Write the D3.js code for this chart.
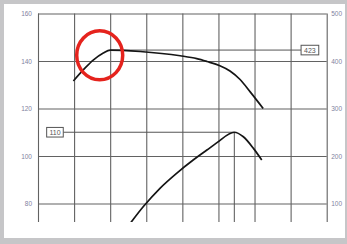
<!DOCTYPE html>
<html>
<head>
<meta charset="utf-8">
<script src="https://cdn.jsdelivr.net/npm/d3@7"></script>
<style>
  body { margin: 0; background: #c6c6c8; }
  svg { display: block; }
</style>
</head>
<body>
<script>
// x positions are in grid steps (no x labels on the original)
var upperX = [0.98, 1.30, 1.53, 1.81, 2.0, 2.83, 3.94, 4.40, 4.68, 5.04, 5.32, 5.60, 5.88, 6.24];
var upperY = [358, 385, 402, 417, 423, 420, 411, 405, 399, 390, 379, 361, 335, 300];   // right axis
var lowerX = [2.55, 2.92, 3.38, 3.84, 4.30, 4.68, 4.95, 5.44, 5.69, 5.97, 6.20];
var lowerY = [71.5, 78.7, 86.4, 92.7, 98.3, 102.5, 105.5, 110, 108.1, 103.2, 98.3];   // left axis
var leftTicks = [80, 100, 120, 140, 160];
var rightTicks = [100, 200, 300, 400, 500];
var xTicks = [0, 1, 2, 3, 4, 5, 6, 7, 8];

var W = 347, H = 244;
var m = {left: 38, right: 326.7, top: 13.5, bottom: 222};

var svg = d3.select("body").append("svg").attr("width", W).attr("height", H);

// paper
svg.append("rect").attr("x", 4).attr("y", 4).attr("width", 341).attr("height", 234).attr("fill", "#ffffff");

var x = d3.scaleLinear().domain([0, 8]).range([m.left, m.right]);
var yL = d3.scaleLinear().domain([72.2, 160]).range([m.bottom, m.top]);
var yR = d3.scaleLinear().domain([61, 500]).range([m.bottom, m.top]);

var gridColor = "#626262";
var labelFont = "6.5px 'Liberation Sans'";

// vertical grid
var vg = svg.append("g")
    .attr("transform", "translate(0," + m.bottom + ")")
    .call(d3.axisBottom(x).tickValues(xTicks).tickSize(-(m.bottom - m.top)).tickFormat(""));
vg.select(".domain").remove();
vg.selectAll("line").attr("stroke", gridColor).attr("stroke-width", 1.1);

// horizontal grid + left labels
var lg = svg.append("g")
    .attr("transform", "translate(" + m.left + ",0)")
    .call(d3.axisLeft(yL).tickValues(leftTicks).tickSize(-(m.right - m.left)).tickPadding(6));
lg.select(".domain").remove();
lg.selectAll("line").attr("stroke", gridColor).attr("stroke-width", 1.1);
lg.selectAll("text").attr("fill", "#7f82a0").style("font", labelFont);

// right labels
var rg = svg.append("g")
    .attr("transform", "translate(" + m.right + ",0)")
    .call(d3.axisRight(yR).tickValues(rightTicks).tickSize(0).tickPadding(4.5));
rg.select(".domain").remove();
rg.selectAll("text").attr("fill", "#7f82a0").style("font", labelFont);

svg.append("clipPath").attr("id", "plot")
    .append("rect").attr("x", m.left).attr("y", m.top).attr("width", m.right - m.left).attr("height", m.bottom - m.top);

var plot = svg.append("g").attr("clip-path", "url(#plot)");

// annotation: 423 on the upper curve
var upPeak = d3.maxIndex(upperY);
var boxUp = {x0: 7.29, x1: 7.78, v: upperY[upPeak]};
plot.append("line")
    .attr("x1", x(upperX[upPeak])).attr("x2", x(boxUp.x0))
    .attr("y1", yR(boxUp.v)).attr("y2", yR(boxUp.v))
    .attr("stroke", "#555").attr("stroke-width", 1);

// annotation: 110 on the lower curve
var loPeak = d3.maxIndex(lowerY);
var boxLo = {x0: 0.24, x1: 0.70, v: lowerY[loPeak]};
plot.append("line")
    .attr("x1", x(boxLo.x1)).attr("x2", x(lowerX[loPeak]))
    .attr("y1", yL(boxLo.v)).attr("y2", yL(boxLo.v))
    .attr("stroke", "#555").attr("stroke-width", 1);
plot.append("line")
    .attr("x1", x(lowerX[loPeak])).attr("x2", x(lowerX[loPeak]))
    .attr("y1", yL(boxLo.v)).attr("y2", m.bottom)
    .attr("stroke", "#555").attr("stroke-width", 1);

var lineUp = d3.line()
    .x(function (d, i) { return x(upperX[i]); })
    .y(function (d) { return yR(d); })
    .curve(d3.curveMonotoneX);
var lineLo = d3.line()
    .x(function (d, i) { return x(lowerX[i]); })
    .y(function (d) { return yL(d); })
    .curve(d3.curveMonotoneX);

plot.append("path").datum(upperY).attr("d", lineUp)
    .attr("fill", "none").attr("stroke", "#151515").attr("stroke-width", 1.7);
plot.append("path").datum(lowerY).attr("d", lineLo)
    .attr("fill", "none").attr("stroke", "#151515").attr("stroke-width", 1.7);

// label boxes
function labelBox(b, yScale) {
    var yc = yScale(b.v);
    svg.append("rect")
        .attr("x", x(b.x0)).attr("y", yc - 4.8)
        .attr("width", x(b.x1) - x(b.x0)).attr("height", 9.6)
        .attr("fill", "#fff").attr("stroke", "#555").attr("stroke-width", 1);
    svg.append("text")
        .attr("x", (x(b.x0) + x(b.x1)) / 2).attr("y", yc)
        .attr("dy", "0.35em").attr("text-anchor", "middle")
        .attr("fill", "#555")
        .style("font", "7px 'Liberation Sans'")
        .text(b.v);
}
labelBox(boxUp, yR);
labelBox(boxLo, yL);

// red circle highlight around the top of the upper curve
svg.append("ellipse")
    .attr("cx", x(1.71)).attr("cy", yR(412))
    .attr("rx", 23).attr("ry", 24.5)
    .attr("fill", "none").attr("stroke", "#e5231d").attr("stroke-width", 3.5);
</script>
</body>
</html>
